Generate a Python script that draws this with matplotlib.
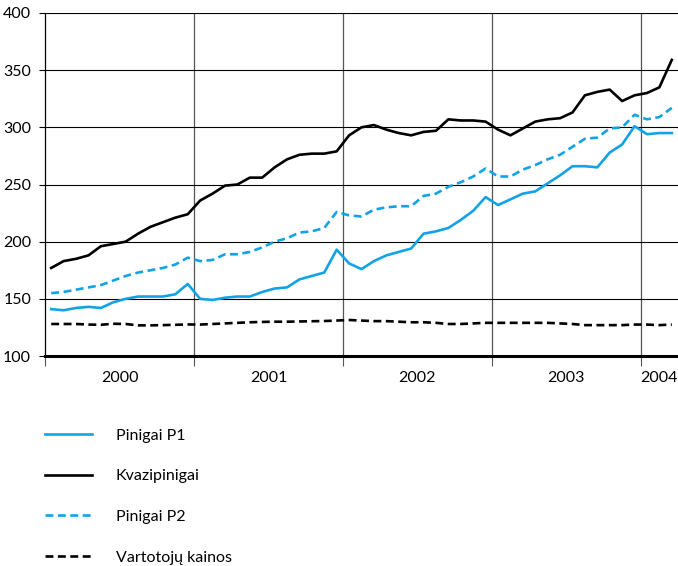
import numpy as np
import matplotlib
matplotlib.use('Agg')
import matplotlib.pyplot as plt

plt.rcParams['font.family'] = ['Lato', 'DejaVu Sans']

# Mėnesiniai duomenys: 2000-01 ... 2004-03
years = ['2000', '2001', '2002', '2003', '2004']

p1 = [141, 140, 142, 143, 142, 147, 150, 152, 152, 152, 154, 163,
      150, 149, 151, 152, 152, 156, 159, 160, 167, 170, 173, 193,
      181, 176, 183, 188, 191, 194, 207, 209, 212, 219, 227, 239,
      232, 237, 242, 244, 251, 258, 266, 266, 265, 278, 285, 301,
      294, 295, 295]

kvazi = [177, 183, 185, 188, 196, 198, 200, 207, 213, 217, 221, 224,
         236, 242, 249, 250, 256, 256, 265, 272, 276, 277, 277, 279,
         293, 300, 302, 298, 295, 293, 296, 297, 307, 306, 306, 305,
         298, 293, 299, 305, 307, 308, 313, 328, 331, 333, 323, 328,
         330, 335, 359]

p2 = [155, 156, 158, 160, 162, 166, 170, 173, 175, 177, 180, 186,
      183, 184, 189, 189, 191, 195, 200, 203, 208, 209, 212, 226,
      223, 222, 228, 230, 231, 231, 240, 242, 248, 252, 257, 264,
      257, 257, 263, 267, 272, 276, 283, 290, 291, 299, 300, 311,
      307, 309, 317]

kainos = [128, 128, 128, 127.5, 127.3, 128.2, 128, 126.8, 126.8, 127, 127.3, 127.6,
          127.5, 128, 128.5, 129, 129.5, 129.8, 130, 130, 130.2, 130.4, 130.6, 131,
          131.5, 131, 130.5, 130.5, 130, 129.5, 129.5, 129, 128, 128, 128.5, 129,
          129, 129, 129, 129, 129, 128.5, 128, 127, 127, 127, 127, 127.5,
          127.5, 127, 127.5]

blue = '#12a3e6'
x = np.arange(len(p1)) + 0.5

fig = plt.figure(figsize=(6.78, 5.66), dpi=100)
ax = fig.add_axes([45/678, 1 - 356/566, 1 - 45/678, (356 - 13)/566])

lw = 1.9
ax.plot(x, p1, color=blue, lw=lw, label='Pinigai P1')
ax.plot(x, kvazi, color='black', lw=lw, label='Kvazipinigai')
ax.plot(x, p2, color=blue, lw=lw, dashes=(3.0, 1.7), label='Pinigai P2')
ax.plot(x, kainos, color='black', lw=lw, dashes=(3.0, 1.7), label='Vartotojų kainos')

ax.set_xlim(0, 51)
ax.set_ylim(100, 400)

ax.set_yticks(np.arange(100, 401, 50))
ax.yaxis.grid(True, color='black', lw=0.8)
ax.tick_params(axis='y', length=4, width=0.8, pad=6, labelsize=11.5)

ax.set_xticks([0, 12, 24, 36, 48])
ax.set_xticklabels([])
ax.tick_params(axis='x', which='major', length=7, width=0.8, color='#555555')
mid = [6, 18, 30, 42, 49.5]
ax.set_xticks(mid, minor=True)
ax.set_xticklabels(years, minor=True)
ax.tick_params(axis='x', which='minor', length=0, pad=11, labelsize=11.5)
for xv in [12, 24, 36, 48]:
    ax.axvline(xv, color='#555555', lw=0.9, zorder=0.5)

ax.set_axisbelow(True)
ax.spines['top'].set_visible(False)
ax.spines['right'].set_visible(False)
ax.spines['bottom'].set_linewidth(2.2)
ax.spines['left'].set_linewidth(0.9)

fig.legend(loc='upper left', bbox_to_anchor=(31/678, 1 - 414/566),
           frameon=False, fontsize=11.5, handlelength=2.9,
           handletextpad=1.5, labelspacing=1.66)

plt.savefig('out.png', dpi=100)
